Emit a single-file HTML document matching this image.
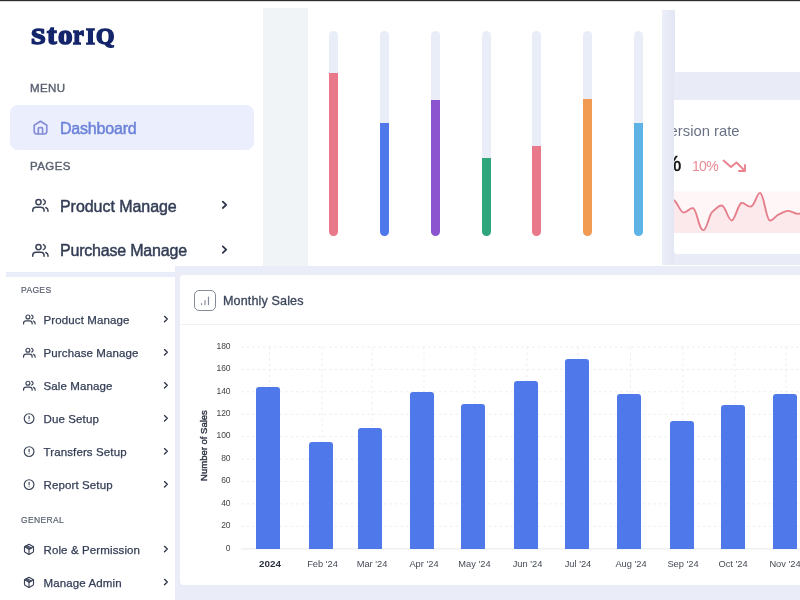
<!DOCTYPE html>
<html lang="en">
<head>
<meta charset="utf-8">
<title>StorIQ Dashboard</title>
<style>
*{box-sizing:border-box;margin:0;padding:0}
html,body{width:800px;height:600px;overflow:hidden;background:#fff}
body{position:relative;font-family:"Liberation Sans",sans-serif;color:#2f3a52;will-change:transform}
.abs{position:absolute}
svg{position:absolute;overflow:visible}
.ic{fill:none;stroke:#3a4358;stroke-width:2;stroke-linecap:round;stroke-linejoin:round}
/* ---------- top collage ---------- */
#topline{left:0;top:0;width:800px;height:1px;background:#2b2b2b}
#topline2{left:0;top:1px;width:800px;height:1px;background:#d9d9d9}
#band1{left:263px;top:8px;width:44.5px;height:258px;background:#f1f4f7}
#band2{left:662px;top:9.5px;width:12.5px;height:255.5px;background:linear-gradient(to right,#eceef8,#e3e6f3)}
#band3{left:674px;top:72px;width:126px;height:28px;background:#e9ecf7}
#band4{left:674px;top:250px;width:126px;height:15px;background:#e9ecf7}
.logo{left:32px;top:21.5px;font-family:"Liberation Serif",serif;font-weight:700;font-size:24px;line-height:30px;color:#14256b;letter-spacing:2px;-webkit-text-stroke:1.5px #14256b;white-space:nowrap}
.cap{font-size:11.5px;letter-spacing:.4px;color:#5a6170;-webkit-text-stroke:.4px #5a6170;line-height:14px;white-space:nowrap}
.active{left:9.5px;top:105px;width:244px;height:44.8px;border-radius:8px;background:#ebeefd}
.big{font-size:16px;line-height:20px;white-space:nowrap;color:#333d55;-webkit-text-stroke:.45px #333d55;letter-spacing:-.05px}
/* vertical progress bars */
.trk{width:9px;border-radius:5px;background:#e9edf7;top:31px;height:205.4px}
.fil{width:9px;border-radius:0 0 5px 5px}
/* conversion card */
.cv{left:674px;top:100px;width:126px;height:153.5px;overflow:hidden;background:#fff;border-radius:0 0 0 4px}
/* ---------- bottom screenshot ---------- */
#bbg{left:175px;top:266px;width:625px;height:334px;background:#eaedf8}
#strip{left:6px;top:272px;width:169px;height:5px;background:#e9edfa}
#card{left:180px;top:275px;width:624px;height:310px;background:#fff;border-radius:4px}
#hsep{left:180px;top:323.5px;width:620px;height:1px;background:#eef0f4}
.scap{font-size:8.5px;letter-spacing:.35px;color:#5a6170;-webkit-text-stroke:.2px #5a6170;line-height:10px;white-space:nowrap}
.sm{font-size:11.5px;line-height:14px;white-space:nowrap;color:#333d55;-webkit-text-stroke:.25px #333d55;letter-spacing:.12px}
.yl{font-size:8.5px;line-height:10px;color:#444;width:30px;text-align:right;left:200.6px}
.xl{font-size:9.3px;line-height:10px;color:#444a55;width:60px;text-align:center;white-space:nowrap}
.bar{background:#4f78ea;border-radius:3px 3px 0 0;width:24px}
.logo span{position:absolute;display:block;transform-origin:0 50%;line-height:30px}
.logo .lc{font-size:27px;top:19.84px}
.logo .uc{font-size:22.5px;top:22.1px}
</style>
</head>
<body>
<!-- top collage backgrounds -->
<div class="abs" id="band1"></div>
<div class="abs" id="band2"></div>
<div class="abs" id="band3"></div>
<div class="abs" id="band4"></div>

<!-- big sidebar -->
<div class="abs logo" style="left:0;top:0;width:130px;height:60px;letter-spacing:0"><span class="uc" style="left:30.7px;transform:scaleX(1.17)">S</span><span class="lc" style="left:46.6px;transform:scaleX(1.07)">t</span><span class="lc" style="left:58.3px;transform:scaleX(1.08)">o</span><span class="lc" style="left:73.3px;transform:scaleX(.9)">r</span><span class="uc" style="left:86.4px;transform:scaleX(1.02)">I</span><span class="uc" style="left:96.2px;transform:scaleX(1.05)">Q</span></div>
<div class="abs cap" style="left:30px;top:81px">MENU</div>
<div class="abs active"></div>
<div class="abs big" style="left:60px;top:119px;color:#6a82d8;-webkit-text-stroke:.45px #6a82d8;letter-spacing:-.2px">Dashboard</div>
<div class="abs cap" style="left:30px;top:159px">PAGES</div>
<div class="abs big" style="left:60px;top:196.6px">Product Manage</div>
<div class="abs big" style="left:60px;top:241.4px;letter-spacing:-.2px">Purchase Manage</div>
<svg style="left:0;top:0" width="800" height="300" viewBox="0 0 800 300">
<g fill="none" stroke="#848fd8" stroke-width="1.7" stroke-linecap="round" stroke-linejoin="round"><path d="M34.2 125.3L40.5 121.2L46.8 125.3V131.3a2.7 2.7 0 0 1-2.7 2.7H36.9a2.7 2.7 0 0 1-2.7-2.7Z"/><path d="M38.3 134v-5.4a1 1 0 0 1 1-1h2.3a1 1 0 0 1 1 1v5.4"/></g>
<g transform="translate(31.5 198) scale(1)" fill="none" stroke="#3a4358" stroke-width="1.5" stroke-linecap="round" stroke-linejoin="round"><circle cx="7" cy="4.1" r="2.6"/><path d="M1.25 13.3v-.8a3.3 3.3 0 0 1 3.3-3.3h4.7a3.3 3.3 0 0 1 3.3 3.3v.8"/><path d="M11.9 1.6a2.6 2.6 0 0 1 0 5"/><path d="M14.3 9.5a3.3 3.3 0 0 1 2.2 3.1v.7"/></g>
<g transform="translate(31.5 243) scale(1)" fill="none" stroke="#3a4358" stroke-width="1.5" stroke-linecap="round" stroke-linejoin="round"><circle cx="7" cy="4.1" r="2.6"/><path d="M1.25 13.3v-.8a3.3 3.3 0 0 1 3.3-3.3h4.7a3.3 3.3 0 0 1 3.3 3.3v.8"/><path d="M11.9 1.6a2.6 2.6 0 0 1 0 5"/><path d="M14.3 9.5a3.3 3.3 0 0 1 2.2 3.1v.7"/></g>
<path d="M222.80 201.60L226.20 204.80L222.80 208.00" fill="none" stroke="#2c3347" stroke-width="1.8" stroke-linecap="round" stroke-linejoin="round"/>
<path d="M222.80 246.40L226.20 249.60L222.80 252.80" fill="none" stroke="#2c3347" stroke-width="1.8" stroke-linecap="round" stroke-linejoin="round"/>
</svg>

<!-- vertical progress bars -->
<div class="abs trk" style="left:329px"></div><div class="abs fil" style="left:329px;top:72.6px;height:163.8px;background:#e9788a"></div>
<div class="abs trk" style="left:380px"></div><div class="abs fil" style="left:380px;top:122.6px;height:113.8px;background:#4f78ea"></div>
<div class="abs trk" style="left:430.5px"></div><div class="abs fil" style="left:430.5px;top:99.6px;height:136.8px;background:#8c55cf"></div>
<div class="abs trk" style="left:481.5px"></div><div class="abs fil" style="left:481.5px;top:157.6px;height:78.8px;background:#2fa57b"></div>
<div class="abs trk" style="left:532px"></div><div class="abs fil" style="left:532px;top:145.6px;height:90.8px;background:#e9788a"></div>
<div class="abs trk" style="left:583px"></div><div class="abs fil" style="left:583px;top:98.6px;height:137.8px;background:#f09a52"></div>
<div class="abs trk" style="left:634px"></div><div class="abs fil" style="left:634px;top:122.6px;height:113.8px;background:#5db3e6"></div>

<!-- conversion rate card (clipped) -->
<div class="abs cv">
  <div class="abs" style="right:60.5px;top:22px;font-size:14.8px;line-height:18px;color:#687084;white-space:nowrap">Conversion rate</div>
  <div class="abs" style="right:118.6px;top:51px;font-size:21.5px;line-height:26px;color:#111;white-space:nowrap;font-weight:400;-webkit-text-stroke:.45px #111">3.6%</div>
  <div class="abs" style="left:18px;top:58.3px;font-size:14px;line-height:16px;color:#e98b96;white-space:nowrap;letter-spacing:-.7px">10%</div>
  <svg style="left:0;top:0" width="126" height="154" viewBox="674 100 126 154">
    <path d="M723.5 160.5 L731 167 L736.5 162.5 L745 171 M745 165 L745 171 L739 171" fill="none" stroke="#e8838f" stroke-width="1.9" stroke-linecap="round" stroke-linejoin="round"/>
    <rect x="674" y="191.5" width="126" height="41.5" fill="#fef6f7"/>
    <path id="spf" d="M665 196 C670 198 673 199 675.4 201.6 C679 206 681 213 683.6 212.6 C688 212 690 207 693.25 208.25 C697 210 699 230.5 703.4 230.1 C707 230 709 214 712.5 211.75 C716 209 719 204.5 722.1 205.6 C726 207 728 220.5 731.75 220.5 C735 220.5 738 204 741.4 203 C745 202 747 207.5 751 206.5 C755 205.5 757 192.5 760.1 192.85 C764 193.5 766 220 769.9 220.5 C773 221 775 216 779 214.4 C783 212.8 785 210.5 788.6 210.9 C792 211.3 795 214 798.25 213.85 C801 213.7 803 212 806 211 L806 233 L665 233 Z" fill="#fce9ec" stroke="none"/>
    <path d="M665 196 C670 198 673 199 675.4 201.6 C679 206 681 213 683.6 212.6 C688 212 690 207 693.25 208.25 C697 210 699 230.5 703.4 230.1 C707 230 709 214 712.5 211.75 C716 209 719 204.5 722.1 205.6 C726 207 728 220.5 731.75 220.5 C735 220.5 738 204 741.4 203 C745 202 747 207.5 751 206.5 C755 205.5 757 192.5 760.1 192.85 C764 193.5 766 220 769.9 220.5 C773 221 775 216 779 214.4 C783 212.8 785 210.5 788.6 210.9 C792 211.3 795 214 798.25 213.85 C801 213.7 803 212 806 211" fill="none" stroke="#e57f8c" stroke-width="1.9" stroke-linecap="round" stroke-linejoin="round"/>
  </svg>
</div>

<!-- ---------- bottom screenshot ---------- -->
<div class="abs" id="bbg"></div>
<div class="abs" id="strip"></div>
<div class="abs" id="card"></div>
<div class="abs" id="hsep"></div>

<!-- small sidebar -->
<div class="abs scap" style="left:21px;top:285px">PAGES</div>
<div class="abs scap" style="left:21px;top:515px">GENERAL</div>
<div class="abs sm" style="left:43.5px;top:312.75px">Product Manage</div>
<div class="abs sm" style="left:43.5px;top:346.00px">Purchase Manage</div>
<div class="abs sm" style="left:43.5px;top:379.00px">Sale Manage</div>
<div class="abs sm" style="left:43.5px;top:412.00px">Due Setup</div>
<div class="abs sm" style="left:43.5px;top:445.00px">Transfers Setup</div>
<div class="abs sm" style="left:43.5px;top:478.00px">Report Setup</div>
<div class="abs sm" style="left:43.5px;top:542.75px">Role &amp; Permission</div>
<div class="abs sm" style="left:43.5px;top:575.75px">Manage Admin</div>
<svg style="left:0;top:300px" width="180" height="300" viewBox="0 300 180 300">
<g transform="translate(22.6 313.85) scale(0.76)" fill="none" stroke="#3a4358" stroke-width="1.55" stroke-linecap="round" stroke-linejoin="round"><circle cx="7" cy="4.1" r="2.6"/><path d="M1.25 13.3v-.8a3.3 3.3 0 0 1 3.3-3.3h4.7a3.3 3.3 0 0 1 3.3 3.3v.8"/><path d="M11.9 1.6a2.6 2.6 0 0 1 0 5"/><path d="M14.3 9.5a3.3 3.3 0 0 1 2.2 3.1v.7"/></g>
<path d="M164.50 316.35L167.30 319.05L164.50 321.75" fill="none" stroke="#2c3347" stroke-width="1.35" stroke-linecap="round" stroke-linejoin="round"/>
<g transform="translate(22.6 347.1) scale(0.76)" fill="none" stroke="#3a4358" stroke-width="1.55" stroke-linecap="round" stroke-linejoin="round"><circle cx="7" cy="4.1" r="2.6"/><path d="M1.25 13.3v-.8a3.3 3.3 0 0 1 3.3-3.3h4.7a3.3 3.3 0 0 1 3.3 3.3v.8"/><path d="M11.9 1.6a2.6 2.6 0 0 1 0 5"/><path d="M14.3 9.5a3.3 3.3 0 0 1 2.2 3.1v.7"/></g>
<path d="M164.50 349.60L167.30 352.30L164.50 355.00" fill="none" stroke="#2c3347" stroke-width="1.35" stroke-linecap="round" stroke-linejoin="round"/>
<g transform="translate(22.6 380.1) scale(0.76)" fill="none" stroke="#3a4358" stroke-width="1.55" stroke-linecap="round" stroke-linejoin="round"><circle cx="7" cy="4.1" r="2.6"/><path d="M1.25 13.3v-.8a3.3 3.3 0 0 1 3.3-3.3h4.7a3.3 3.3 0 0 1 3.3 3.3v.8"/><path d="M11.9 1.6a2.6 2.6 0 0 1 0 5"/><path d="M14.3 9.5a3.3 3.3 0 0 1 2.2 3.1v.7"/></g>
<path d="M164.50 382.60L167.30 385.30L164.50 388.00" fill="none" stroke="#2c3347" stroke-width="1.35" stroke-linecap="round" stroke-linejoin="round"/>
<g fill="none" stroke="#3a4358" stroke-width="1.15" stroke-linecap="round"><circle cx="29.1" cy="418.6" r="4.85"/><path d="M29.1 416.3v2.5M29.1 420.70000000000005v.05"/></g>
<path d="M164.50 415.60L167.30 418.30L164.50 421.00" fill="none" stroke="#2c3347" stroke-width="1.35" stroke-linecap="round" stroke-linejoin="round"/>
<g fill="none" stroke="#3a4358" stroke-width="1.15" stroke-linecap="round"><circle cx="29.1" cy="451.6" r="4.85"/><path d="M29.1 449.3v2.5M29.1 453.70000000000005v.05"/></g>
<path d="M164.50 448.60L167.30 451.30L164.50 454.00" fill="none" stroke="#2c3347" stroke-width="1.35" stroke-linecap="round" stroke-linejoin="round"/>
<g fill="none" stroke="#3a4358" stroke-width="1.15" stroke-linecap="round"><circle cx="29.1" cy="484.6" r="4.85"/><path d="M29.1 482.3v2.5M29.1 486.70000000000005v.05"/></g>
<path d="M164.50 481.60L167.30 484.30L164.50 487.00" fill="none" stroke="#2c3347" stroke-width="1.35" stroke-linecap="round" stroke-linejoin="round"/>
<g transform="translate(23 543.35) scale(.5)" fill="none" stroke="#3a4358" stroke-width="2.3" stroke-linecap="round" stroke-linejoin="round"><path d="m7.5 4.27 9 5.15"/><path d="m5.3 5.6 9 5.15"/><path d="M21 8a2 2 0 0 0-1-1.73l-7-4a2 2 0 0 0-2 0l-7 4A2 2 0 0 0 3 8v8a2 2 0 0 0 1 1.73l7 4a2 2 0 0 0 2 0l7-4A2 2 0 0 0 21 16Z"/><path d="m3.3 7 8.7 5 8.7-5"/><path d="M12 22V12"/></g>
<path d="M164.50 546.35L167.30 549.05L164.50 551.75" fill="none" stroke="#2c3347" stroke-width="1.35" stroke-linecap="round" stroke-linejoin="round"/>
<g transform="translate(23 576.35) scale(.5)" fill="none" stroke="#3a4358" stroke-width="2.3" stroke-linecap="round" stroke-linejoin="round"><path d="m7.5 4.27 9 5.15"/><path d="m5.3 5.6 9 5.15"/><path d="M21 8a2 2 0 0 0-1-1.73l-7-4a2 2 0 0 0-2 0l-7 4A2 2 0 0 0 3 8v8a2 2 0 0 0 1 1.73l7 4a2 2 0 0 0 2 0l7-4A2 2 0 0 0 21 16Z"/><path d="m3.3 7 8.7 5 8.7-5"/><path d="M12 22V12"/></g>
<path d="M164.50 579.35L167.30 582.05L164.50 584.75" fill="none" stroke="#2c3347" stroke-width="1.35" stroke-linecap="round" stroke-linejoin="round"/>
</svg>

<!-- card header -->
<div class="abs" style="left:194px;top:290px;width:21.5px;height:20.5px;border:1.2px solid #858b97;border-radius:5px"></div>
<svg style="left:200px;top:296px" width="9" height="9" viewBox="0 0 9 9"><path d="M1.5 8.6V7.6 M5 8.6V4.6 M8.5 8.6V1.2" stroke="#858c9a" stroke-width="1.2" stroke-linecap="round" fill="none"/></svg>
<div class="abs" style="left:223px;top:292.5px;letter-spacing:.12px;font-size:12.6px;line-height:16px;color:#3c475b;white-space:nowrap;-webkit-text-stroke:.3px #3c475b">Monthly Sales</div>

<!-- chart -->
<svg style="left:0;top:0" width="800" height="600" viewBox="0 0 800 600">
  <g stroke="#ebedf1" stroke-width="1" stroke-dasharray="2.5 3" fill="none">
    <path d="M241 347.0H800 M241 369.4H800 M241 391.8H800 M241 414.3H800 M241 436.7H800 M241 459.1H800 M241 481.5H800 M241 503.9H800 M241 526.4H800"/>
    <path d="M269.5 347V548 M322 347V548 M372 347V548 M424 347V548 M475 347V548 M527 347V548 M578 347V548 M630.5 347V548 M683 347V548 M735 347V548 M786 347V548"/>
  </g>
  <path d="M241 548.9H800" stroke="#e6e8ed" stroke-width="1" fill="none"/>
</svg>
<div class="abs yl" style="top:340.75px">180</div>
<div class="abs yl" style="top:363.17px">160</div>
<div class="abs yl" style="top:385.59px">140</div>
<div class="abs yl" style="top:408.01px">120</div>
<div class="abs yl" style="top:430.43px">100</div>
<div class="abs yl" style="top:452.85px">80</div>
<div class="abs yl" style="top:475.27px">60</div>
<div class="abs yl" style="top:497.69px">40</div>
<div class="abs yl" style="top:520.11px">20</div>
<div class="abs yl" style="top:542.53px">0</div>
<div class="abs" style="left:163.4px;top:439.6px;width:80px;height:11px;text-align:center;font-size:9.5px;line-height:11px;color:#2b3140;-webkit-text-stroke:.35px #2b3140;transform:rotate(-90deg);white-space:nowrap">Number of Sales</div>

<div class="abs bar" style="left:256.2px;top:386.8px;height:162.1px"></div>
<div class="abs bar" style="left:308.5px;top:441.8px;height:107.1px"></div>
<div class="abs bar" style="left:358px;top:428.1px;height:120.8px"></div>
<div class="abs bar" style="left:410px;top:392.4px;height:156.5px"></div>
<div class="abs bar" style="left:461px;top:403.6px;height:145.3px"></div>
<div class="abs bar" style="left:514px;top:381.1px;height:167.8px"></div>
<div class="abs bar" style="left:564.5px;top:358.6px;height:190.3px"></div>
<div class="abs bar" style="left:617px;top:393.9px;height:155.0px"></div>
<div class="abs bar" style="left:669.5px;top:421.1px;height:127.8px"></div>
<div class="abs bar" style="left:720.5px;top:405.1px;height:143.8px"></div>
<div class="abs bar" style="left:772.5px;top:393.9px;height:155.0px"></div>

<div class="abs xl" style="left:240px;top:559px;font-weight:700;font-size:9.8px;color:#2b3140">2024</div>
<div class="abs xl" style="left:292.5px;top:559px">Feb '24</div>
<div class="abs xl" style="left:342px;top:559px">Mar '24</div>
<div class="abs xl" style="left:394px;top:559px">Apr '24</div>
<div class="abs xl" style="left:444.5px;top:559px">May '24</div>
<div class="abs xl" style="left:497.5px;top:559px">Jun '24</div>
<div class="abs xl" style="left:548px;top:559px">Jul '24</div>
<div class="abs xl" style="left:601px;top:559px">Aug '24</div>
<div class="abs xl" style="left:653px;top:559px">Sep '24</div>
<div class="abs xl" style="left:703px;top:559px">Oct '24</div>
<div class="abs xl" style="left:755px;top:559px">Nov '24</div>

<div class="abs" id="topline"></div>
<div class="abs" id="topline2"></div>
</body>
</html>
